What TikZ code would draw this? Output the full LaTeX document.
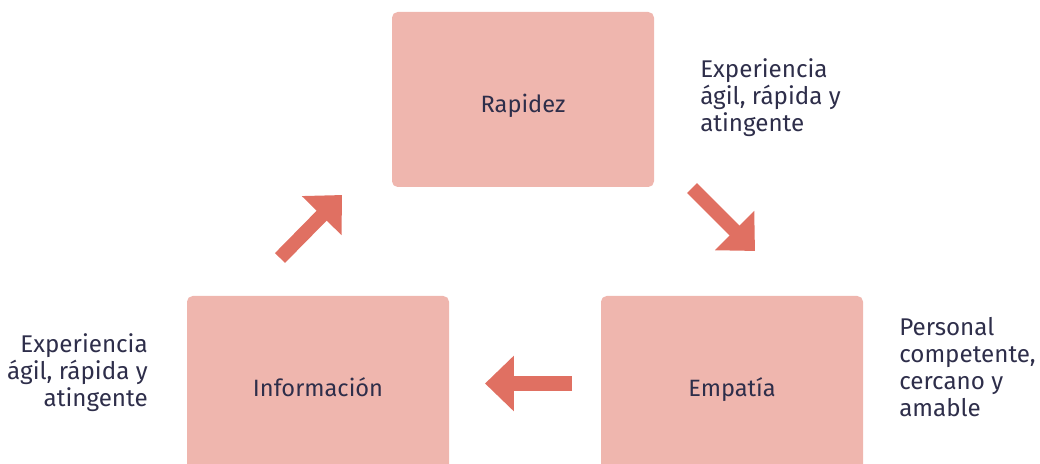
\documentclass[tikz,border=0pt]{standalone}
\usepackage{fontspec}
\setmainfont{Fira Sans}
\usepackage{tikz}
\usepackage{xcolor}
\usetikzlibrary{arrows.meta}
\definecolor{boxpink}{HTML}{EFB6AE}
\definecolor{arrowred}{HTML}{E07062}
\definecolor{inkblue}{HTML}{2E2E4A}

\begin{document}
\begin{tikzpicture}%
  [x=0.025cm,y=-0.025cm,text=inkblue]
  \tikzstyle{box node}=[rectangle,fill=boxpink,rounded corners=4pt,
    minimum width=262*0.025cm,minimum height=175*0.025cm,
    text height=18.8pt,text depth=0pt,
    font=\fontsize{16.8}{19}\selectfont]
  \tikzstyle{note node}=[inner sep=0,font=\fontsize{17.2}{19.3}\selectfont]
  \tikzstyle{block arrow}=[draw=arrowred,line width=10pt,
    -{Triangle[length=20.6pt,width=38.4pt]}]
  \clip (0,0) rectangle (1040,464);
  % boxes
  \node(rap)[box node] at (523,99.5){Rapidez};
  \node(inf)[box node] at (318,383.5){Información};
  \node(emp)[box node] at (732,383.5){Empatía};
  % notes
  \node(rapnote)[note node,anchor=north west,align=left] at (700,58)
    {Experiencia\\ágil, rápida y\\atingente};
  \node(infnote)[note node,anchor=north east,align=right] at (148,333)
    {Experiencia\\ágil, rápida y\\atingente};
  \node(empnote)[note node,anchor=north west,align=left] at (899,317)
    {Personal\\competente,\\cercano y\\amable};
  % arrows
  \coordinate(a1) at (280,258);
  \coordinate(b1) at (342,195);
  \coordinate(a2) at (692,188);
  \coordinate(b2) at (755,251);
  \coordinate(a3) at (572,383.5);
  \coordinate(b3) at (485,383.5);
  \draw[block arrow] (a1) -- (b1);
  \draw[block arrow] (a2) -- (b2);
  \draw[block arrow] (a3) -- (b3);
\end{tikzpicture}
\end{document}
